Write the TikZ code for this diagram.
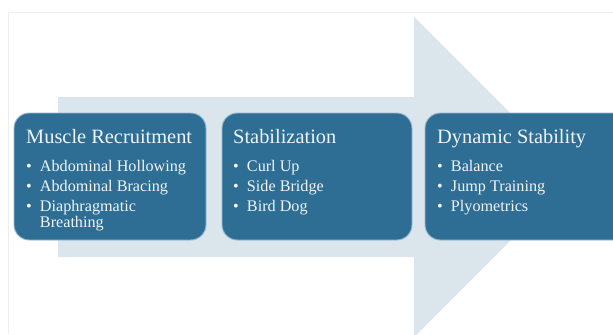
\documentclass[tikz,border=0pt]{standalone}
\usepackage{fontspec}
\setmainfont{Liberation Serif}
\usetikzlibrary{calc}
\definecolor{boxblue}{RGB}{46,110,149}
\definecolor{boxedge}{RGB}{150,185,208}
\definecolor{arrowpale}{RGB}{219,229,236}
\definecolor{framegray}{RGB}{238,238,238}
\definecolor{textwhite}{RGB}{240,244,247}
\tikzset{
  stagebox/.style={draw=boxedge, line width=0.8pt, fill=boxblue, rounded corners=13},
  stagetitle/.style={anchor=base west, inner sep=0pt, text=textwhite,
    font=\fontsize{17.4}{20}\selectfont},
  stagelist/.style={anchor=north west, inner sep=0pt, text=textwhite,
    font=\fontsize{13.8}{17}\selectfont}
}
\newcommand{\bitem}{\textbullet}
\newenvironment{bulletlist}{\begin{tabular}{@{}l@{\hspace{0.5em}}l@{}}}{\end{tabular}}
\begin{document}
\begin{tikzpicture}[x=0.03cm, y=-0.03cm]
                % Picture frame
                \useasboundingbox (0,0) rectangle (613,334);
                \fill[white] (0,0) rectangle (613,334);
                \draw[framegray, line width=0.6pt] (8,334) -- (8,12) -- (613,12);

                % Big pale arrow behind the stages
                \fill[arrowpale] (58,97) -- (414,97) -- (414,17) -- (574,177)
                    -- (414,337) -- (414,257) -- (58,257) -- cycle;

                % The three stage boxes
                \draw[stagebox] (14,113) rectangle (206,240);
                \draw[stagebox] (222,113) rectangle (412,240);
                \draw[stagebox] (425,113) rectangle (630,240);

                % Muscle recruitment
                \node[stagetitle] (mrtitle) at (26,143) {Muscle Recruitment};
                \node[stagelist] (mrlist) at (26,157) {%
                    \begin{bulletlist}
                    \bitem & Abdominal Hollowing\\
                    \bitem & Abdominal Bracing\\
                    \bitem & Diaphragmatic\\[-3pt]
                           & Breathing
                    \end{bulletlist}};

                % Stabilization
                \node[stagetitle] (sttitle) at (233,143) {Stabilization};
                \node[stagelist] (stlist) at (233,157) {%
                    \begin{bulletlist}
                    \bitem & Curl Up\\
                    \bitem & Side Bridge\\
                    \bitem & Bird Dog
                    \end{bulletlist}};

                % Dynamic stability
                \node[stagetitle] (dstitle) at (437,143) {Dynamic Stability};
                \node[stagelist] (dslist) at (437,157) {%
                    \begin{bulletlist}
                    \bitem & Balance\\
                    \bitem & Jump Training\\
                    \bitem & Plyometrics
                    \end{bulletlist}};
            \end{tikzpicture}
\end{document}
